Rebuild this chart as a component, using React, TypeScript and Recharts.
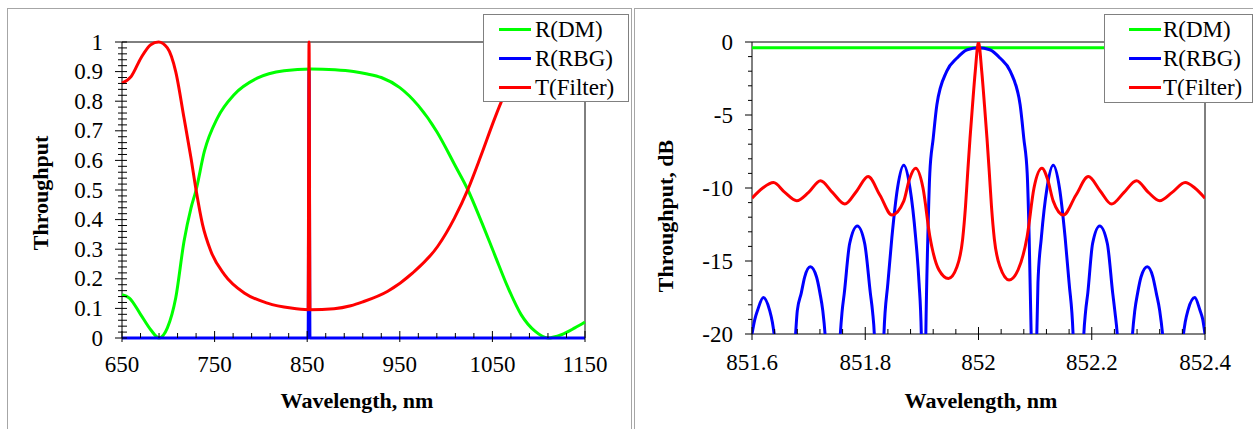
import React from 'react';
import { LineChart, Line, XAxis, YAxis, ReferenceArea, Label } from 'recharts';

// ---------- series meta ----------
const seriesNames = ['R(DM)', 'R(RBG)', 'T(Filter)'];
const seriesColors = ['#00ff00', '#0000ff', '#ff0000'];

// ---------- left panel (linear throughput vs wavelength) ----------
const leftXMajor = [650, 750, 850, 950, 1050, 1150];
const leftXLabels = ['650', '750', '850', '950', '1050', '1150'];
const leftXMinor = [670, 690, 710, 730, 770, 790, 810, 830, 870, 890, 910, 930, 970, 990, 1010, 1030, 1070, 1090, 1110, 1130];
const leftYMajor = [0, 0.1, 0.2, 0.3, 0.4, 0.5, 0.6, 0.7, 0.8, 0.9, 1];
const leftYLabels = ['0', '0.1', '0.2', '0.3', '0.4', '0.5', '0.6', '0.7', '0.8', '0.9', '1'];
const leftYMinor = [0.02, 0.04, 0.06, 0.08, 0.12, 0.14, 0.16, 0.18, 0.22, 0.24, 0.26, 0.28, 0.32, 0.34, 0.36, 0.38, 0.42, 0.44, 0.46, 0.48, 0.52, 0.54, 0.56, 0.58, 0.62, 0.64, 0.66, 0.68, 0.72, 0.74, 0.76, 0.78, 0.82, 0.84, 0.86, 0.88, 0.92, 0.94, 0.96, 0.98];

const leftDMWavelength = [650, 658, 670, 681, 690, 699, 708, 717, 724.5, 730, 739, 753, 771, 796, 825, 854, 880, 900, 915, 930, 950, 970, 990, 1010, 1023.6, 1038, 1052.5, 1067, 1081, 1096, 1110, 1124.5, 1139, 1150];
const leftDMValue = [0.146, 0.135, 0.08, 0.028, 0.0, 0.034, 0.135, 0.327, 0.439, 0.5, 0.631, 0.743, 0.822, 0.878, 0.903, 0.909, 0.906, 0.9, 0.892, 0.88, 0.846, 0.785, 0.697, 0.581, 0.5, 0.394, 0.281, 0.169, 0.079, 0.023, 0.0, 0.011, 0.034, 0.054];

const leftRBGWavelength = [650, 851, 852, 853, 1150];
const leftRBGValue = [0, 0, 0.91, 0, 0];

const leftFilterWavelength = [650, 660, 670.5, 681, 689.5, 699, 708, 717, 724.5, 730, 737, 746, 760.6, 782, 807, 832.5, 851, 852, 853, 879, 897, 910, 937, 964, 991, 1009, 1023.7, 1038, 1052.5, 1061.4, 1072, 1085, 1100, 1120, 1150];
const leftFilterValue = [0.861, 0.884, 0.946, 0.991, 1.0, 0.98, 0.9, 0.743, 0.608, 0.5, 0.383, 0.293, 0.214, 0.152, 0.118, 0.101, 0.0955, 1.0, 0.0955, 0.099, 0.109, 0.122, 0.158, 0.22, 0.31, 0.405, 0.503, 0.619, 0.742, 0.811, 0.88, 0.945, 0.985, 1.0, 0.99];

// ---------- right panel (dB, zoom around 852 nm) ----------
const rightXMajor = [851.6, 851.8, 852, 852.2, 852.4];
const rightXLabels = ['851.6', '851.8', '852', '852.2', '852.4'];
const rightXMinor = [851.64, 851.68, 851.72, 851.76, 851.84, 851.88, 851.92, 851.96, 852.04, 852.08, 852.12, 852.16, 852.24, 852.28, 852.32, 852.36];
const rightYMajor = [0, -5, -10, -15, -20];
const rightYLabels = ['0', '-5', '-10', '-15', '-20'];
const rightYMinor = [-1, -2, -3, -4, -6, -7, -8, -9, -11, -12, -13, -14, -16, -17, -18, -19];

const rightDMWavelength = [851.6, 852.4];
const rightDMValue = [-0.4, -0.4];

const rightRBGWavelength = [851.600, 851.605, 851.610, 851.620, 851.631, 851.636, 851.639, 851.658, 851.677, 851.680, 851.687, 851.693, 851.703, 851.714, 851.720, 851.725, 851.729, 851.7425, 851.756, 851.759, 851.763, 851.7725, 851.786, 851.799, 851.809, 851.813, 851.816, 851.8245, 851.833, 851.840, 851.847, 851.857, 851.868, 851.879, 851.889, 851.895, 851.899, 851.903, 851.907, 851.9105, 851.914, 851.920, 851.9265, 851.944, 851.962, 851.980, 852.000, 852.020, 852.038, 852.056, 852.0735, 852.080, 852.086, 852.0895, 852.093, 852.098, 852.103, 852.105, 852.111, 852.121, 852.132, 852.143, 852.153, 852.160, 852.167, 852.1765, 852.186, 852.189, 852.193, 852.2015, 852.214, 852.2275, 852.237, 852.241, 852.245, 852.2585, 852.272, 852.276, 852.281, 852.287, 852.298, 852.308, 852.314, 852.320, 852.325, 852.3435, 852.362, 852.365, 852.370, 852.382, 852.391, 852.396, 852.400];
const rightRBGValue = [-20, -19, -18.36, -17.5, -18.36, -19.2, -20, -35, -20, -18.4, -17.2, -16.1, -15.4, -16.1, -17.2, -18.4, -20, -35, -20, -18.5, -17.2, -13.8, -12.6, -13.8, -17.2, -18.5, -20, -35, -20, -16.5, -13.4, -10, -8.45, -10, -13.4, -16.5, -20, -35, -20, -13.4, -9.0, -6.6, -4.3, -2.0, -1.1, -0.53, -0.4, -0.53, -1.1, -2.0, -4.3, -6.6, -9.0, -13.4, -20, -35, -20, -16.5, -13.4, -10, -8.45, -10, -13.4, -16.5, -20, -35, -20, -18.5, -17.2, -13.8, -12.6, -13.8, -17.2, -18.5, -20, -35, -20, -18.4, -17.2, -16.1, -15.4, -16.1, -17.2, -18.4, -20, -35, -20, -19.2, -18.36, -17.5, -18.36, -19, -20];

const rightFilterWavelength = [851.600, 851.619, 851.638, 851.658, 851.679, 851.700, 851.721, 851.742, 851.764, 851.785, 851.805, 851.826, 851.847, 851.868, 851.878, 851.889, 851.902, 851.914, 851.930, 851.947, 851.962, 851.972, 851.977, 851.981, 851.985, 851.9895, 851.9943, 852.000, 852.0057, 852.0105, 852.015, 852.019, 852.023, 852.028, 852.038, 852.054, 852.070, 852.086, 852.098, 852.112, 852.122, 852.132, 852.150, 852.172, 852.194, 852.215, 852.235, 852.257, 852.279, 852.300, 852.320, 852.342, 852.365, 852.382, 852.400];
const rightFilterValue = [-10.7, -10.0, -9.63, -10.3, -10.87, -10.3, -9.5, -10.3, -11.1, -10.2, -9.22, -10.5, -11.85, -10.9, -9.4, -8.65, -10.0, -13.3, -15.6, -16.2, -15.4, -13.5, -11.3, -8.9, -6.6, -4.3, -2.0, 0, -2.0, -4.3, -6.6, -8.9, -11.3, -13.5, -15.4, -16.3, -15.6, -13.3, -10.0, -8.65, -9.4, -10.9, -11.85, -10.5, -9.22, -10.2, -11.1, -10.3, -9.5, -10.3, -10.87, -10.3, -9.63, -10.0, -10.7];

// ---------- helpers ----------
const FONT = '"Liberation Serif", "Times New Roman", Times, serif';
const TICK_FONT_SIZE = 23;
const toPoints = (xs: number[], ys: number[]) => xs.map((x, i) => ({ x, y: ys[i] }));
const sortTicks = (a: number[], b: number[]) => [...a, ...b].sort((p, q) => p - q);
const majorIndex = (majors: number[], v: number) => majors.findIndex((m) => Math.abs(m - v) < 1e-7);

type TickCfg = {
  majors: number[];
  labels: string[];
  majIn: number;
  majOut: number;
  minIn: number;
  minOut: number;
  labelOffset: number;
};

const makeXTick = (cfg: TickCfg) => (props: any) => {
  const { x, y, payload } = props;
  const idx = majorIndex(cfg.majors, payload.value);
  const major = idx >= 0;
  return (
    <g>
      <line x1={x} x2={x} y1={y - (major ? cfg.majIn : cfg.minIn)} y2={y + (major ? cfg.majOut : cfg.minOut)} stroke="#000" strokeWidth={1} />
      {major ? (
        <text x={x} y={y + cfg.labelOffset} textAnchor="middle" fontSize={TICK_FONT_SIZE} fontFamily={FONT} fill="#000">
          {cfg.labels[idx]}
        </text>
      ) : null}
    </g>
  );
};

const makeYTick = (cfg: TickCfg) => (props: any) => {
  const { x, y, payload } = props;
  const idx = majorIndex(cfg.majors, payload.value);
  const major = idx >= 0;
  return (
    <g>
      <line x1={x - (major ? cfg.majOut : cfg.minOut)} x2={x + (major ? cfg.majIn : cfg.minIn)} y1={y} y2={y} stroke="#000" strokeWidth={1} />
      {major ? (
        <text x={x - cfg.labelOffset} y={y + 7.5} textAnchor="end" fontSize={TICK_FONT_SIZE} fontFamily={FONT} fill="#000">
          {cfg.labels[idx]}
        </text>
      ) : null}
    </g>
  );
};

const axisTitle = (text: string, x: number, y: number, vertical: boolean) => () => (
  <text
    x={x}
    y={y}
    textAnchor="middle"
    fontSize={22}
    fontWeight="bold"
    fontFamily={FONT}
    fill="#000"
    transform={vertical ? `rotate(-90, ${x}, ${y})` : undefined}
  >
    {text}
  </text>
);

function LegendBox(props: { left: number; top: number; width: number; height: number; lineLeft: number; textLeft: number }) {
  const { left, top, width, height, lineLeft, textLeft } = props;
  return (
    <div
      style={{
        position: 'absolute',
        left,
        top,
        width,
        height,
        boxSizing: 'border-box',
        border: '1px solid #808080',
        background: '#fff',
      }}
    >
      {seriesNames.map((name, i) => (
        <div key={name} style={{ position: 'absolute', left: 0, top: i * 29, height: 29, width: '100%' }}>
          <div style={{ position: 'absolute', left: lineLeft, top: 13, width: 32, height: 3, background: seriesColors[i] }} />
          <div
            style={{
              position: 'absolute',
              left: textLeft,
              top: 0,
              height: 29,
              lineHeight: '29px',
              fontSize: TICK_FONT_SIZE,
              fontFamily: FONT,
              color: '#000',
              whiteSpace: 'nowrap',
            }}
          >
            {name}
          </div>
        </div>
      ))}
    </div>
  );
}

export default function App() {
  const leftDM = toPoints(leftDMWavelength, leftDMValue);
  const leftRBG = toPoints(leftRBGWavelength, leftRBGValue);
  const leftFilter = toPoints(leftFilterWavelength, leftFilterValue);
  const rightDM = toPoints(rightDMWavelength, rightDMValue);
  const rightRBG = toPoints(rightRBGWavelength, rightRBGValue);
  const rightFilter = toPoints(rightFilterWavelength, rightFilterValue);

  const leftSeries = [leftDM, leftRBG, leftFilter];
  const rightSeries = [rightDM, rightRBG, rightFilter];

  return (
    <div style={{ position: 'relative', width: 1253, height: 429, overflow: 'hidden', background: '#fff' }}>
      <style>{'html,body{margin:0;padding:0;overflow:hidden;background:#fff}'}</style>
      {/* panel frames */}
      <div style={{ position: 'absolute', left: 7, top: 8, width: 625, height: 440, boxSizing: 'border-box', border: '1px solid #a6a6a6' }} />
      <div style={{ position: 'absolute', left: 634, top: 8, width: 640, height: 440, boxSizing: 'border-box', border: '1px solid #a6a6a6' }} />

      {/* left chart */}
      <div style={{ position: 'absolute', left: 0, top: 0 }}>
        <LineChart width={631} height={429} margin={{ top: 42, right: 46, bottom: 11, left: 22 }}>
          <XAxis
            dataKey="x"
            type="number"
            domain={[650, 1150]}
            ticks={sortTicks(leftXMajor, leftXMinor)}
            interval={0}
            height={80}
            axisLine={false}
            tickLine={false}
            tickSize={0}
            tickMargin={0}
            tick={makeXTick({ majors: leftXMajor, labels: leftXLabels, majIn: 7, majOut: 4, minIn: 5, minOut: 0, labelOffset: 34 })}
          >
            <Label content={axisTitle('Wavelength, nm', 357, 408, false)} />
          </XAxis>
          <YAxis
            type="number"
            domain={[0, 1]}
            ticks={sortTicks(leftYMajor, leftYMinor)}
            interval={0}
            width={100}
            axisLine={false}
            tickLine={false}
            tickSize={0}
            tickMargin={0}
            tick={makeYTick({ majors: leftYMajor, labels: leftYLabels, majIn: 5, majOut: 7, minIn: 5, minOut: 4, labelOffset: 19 })}
          >
            <Label content={axisTitle('Throughput', 48, 193, true)} />
          </YAxis>
          <ReferenceArea x1={650} x2={1150} y1={0} y2={1} fill="none" stroke="#000" strokeWidth={1} />
          {leftSeries.map((d, i) => (
            <Line
              key={seriesNames[i]}
              data={d}
              dataKey="y"
              name={seriesNames[i]}
              type="monotone"
              stroke={seriesColors[i]}
              strokeWidth={3}
              dot={false}
              activeDot={false}
              isAnimationActive={false}
            />
          ))}
        </LineChart>
      </div>

      {/* right chart */}
      <div style={{ position: 'absolute', left: 631, top: 0 }}>
        <LineChart width={622} height={429} margin={{ top: 42, right: 48, bottom: 15, left: 21 }}>
          <XAxis
            dataKey="x"
            type="number"
            domain={[851.6, 852.4]}
            allowDataOverflow
            ticks={sortTicks(rightXMajor, rightXMinor)}
            interval={0}
            height={80}
            axisLine={false}
            tickLine={false}
            tickSize={0}
            tickMargin={0}
            tick={makeXTick({ majors: rightXMajor, labels: rightXLabels, majIn: 7, majOut: 6, minIn: 5, minOut: 0, labelOffset: 36 })}
          >
            <Label content={axisTitle('Wavelength, nm', 350, 408, false)} />
          </XAxis>
          <YAxis
            type="number"
            domain={[-20, 0]}
            allowDataOverflow
            ticks={sortTicks(rightYMajor, rightYMinor)}
            interval={0}
            width={100}
            axisLine={false}
            tickLine={false}
            tickSize={0}
            tickMargin={0}
            tick={makeYTick({ majors: rightYMajor, labels: rightYLabels, majIn: 0, majOut: 7, minIn: 0, minOut: 4, labelOffset: 19 })}
          >
            <Label content={axisTitle('Throughput, dB', 42, 216, true)} />
          </YAxis>
          <ReferenceArea x1={851.6} x2={852.4} y1={-20} y2={0} fill="none" stroke="#000" strokeWidth={1} />
          {rightSeries.map((d, i) => (
            <Line
              key={seriesNames[i]}
              data={d}
              dataKey="y"
              name={seriesNames[i]}
              type="monotone"
              stroke={seriesColors[i]}
              strokeWidth={3}
              dot={false}
              activeDot={false}
              isAnimationActive={false}
            />
          ))}
        </LineChart>
      </div>

      {/* legends */}
      <LegendBox left={483} top={14} width={146} height={88} lineLeft={15} textLeft={51} />
      <LegendBox left={1104} top={14} width={149} height={89} lineLeft={24} textLeft={58} />
    </div>
  );
}
